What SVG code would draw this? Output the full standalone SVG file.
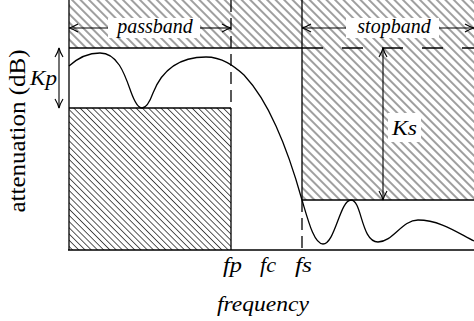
<svg xmlns="http://www.w3.org/2000/svg" width="474" height="321" viewBox="0 0 474 321">
<defs>
<pattern id="hatch" width="6" height="6" patternUnits="userSpaceOnUse" patternTransform="rotate(45)">
<line x1="0" y1="3" x2="6" y2="3" stroke="#000" stroke-width="0.75"/>
</pattern>
<pattern id="hatchDense" width="4.4" height="4.4" patternUnits="userSpaceOnUse" patternTransform="rotate(45)">
<line x1="0" y1="2.2" x2="4.4" y2="2.2" stroke="#111" stroke-width="0.7"/>
</pattern>
<marker id="arr" viewBox="-10 -5 11 10" refX="0" refY="0" markerWidth="11" markerHeight="10" markerUnits="userSpaceOnUse" orient="auto-start-reverse">
<path d="M-9,-4 Q-4,-1 0,0 Q-4,1 -9,4" fill="none" stroke="#000" stroke-width="1.1"/>
</marker>
</defs>
<style>
.ln{stroke:#000;stroke-width:1.3;fill:none}
.dim{stroke:#000;stroke-width:1.1;fill:none;marker-start:url(#arr);marker-end:url(#arr)}
.it{font-family:"Liberation Serif","DejaVu Serif",serif;font-style:italic;font-size:20px;fill:#000}
.up{font-family:"Liberation Serif","DejaVu Serif",serif;font-size:24px;fill:#000}
</style>
<g id="regions">
<rect x="69" y="0" width="405" height="48" fill="url(#hatch)"/>
<rect x="302" y="48" width="172" height="152" fill="url(#hatch)"/>
<rect x="69" y="108" width="162" height="142" fill="url(#hatchDense)"/>
<rect x="108" y="18" width="92" height="20" fill="#fff"/>
<rect x="346" y="18" width="93" height="20" fill="#fff"/>
<rect x="388" y="113" width="33" height="29" fill="#fff"/>
</g>
<g id="frame">
<line class="ln" x1="69" y1="0" x2="69" y2="250"/>
<line class="ln" x1="68" y1="250" x2="474" y2="250"/>
<line class="ln" x1="69" y1="48" x2="302" y2="48"/>
<line class="ln" x1="302" y1="48" x2="474" y2="48" stroke-dasharray="21 19"/>
<line class="ln" x1="69" y1="108" x2="231" y2="108"/>
<line class="ln" x1="231" y1="108" x2="231" y2="250"/>
<line class="ln" x1="231" y1="0" x2="231" y2="108" stroke-dasharray="12 6"/>
<line class="ln" x1="302" y1="0" x2="302" y2="200"/>
<line class="ln" x1="302" y1="200" x2="474" y2="200"/>
<line class="ln" x1="302" y1="200" x2="302" y2="250" stroke-dasharray="12 6"/>
</g>
<g id="connectors">
<line class="dim" x1="69" y1="28" x2="108" y2="28" style="marker-end:none"/>
<line class="dim" x1="200" y1="28" x2="231" y2="28" style="marker-start:none"/>
<line class="dim" x1="302" y1="28" x2="346" y2="28" style="marker-end:none"/>
<line class="dim" x1="439" y1="28" x2="474" y2="28" style="marker-start:none"/>
<line class="dim" x1="59" y1="48" x2="59" y2="108"/>
<line class="dim" x1="383" y1="48" x2="383" y2="200"/>
</g>
<g id="response">
<path class="ln" d="M69,66 C80,56 90,53 100,53 C118,53 125,75 131,92 C135,103 138,108 142,108 C146,108 149,104 153,93 C162,70 180,57 206,57 C222,57 234,66 244,75 C258,90 268,108 276,126 C286,148 295,175 302,200 C308,220 314,244 323,244 C335,244 340,200 351,200 C362,200 361,242 378,242 C393,242 402,220 418,220 C440,220 458,233 474,241"/>
</g>
<g id="labels">
<text class="it" x="155" y="33" text-anchor="middle">passband</text>
<text class="it" x="394" y="33" text-anchor="middle">stopband</text>
<text class="it" x="30" y="85" textLength="27" lengthAdjust="spacingAndGlyphs">Kp</text>
<text class="it" x="392" y="135" textLength="25" lengthAdjust="spacingAndGlyphs">Ks</text>
<text class="it" x="223" y="272" textLength="19" lengthAdjust="spacingAndGlyphs">fp</text>
<text class="it" x="260" y="272" textLength="16" lengthAdjust="spacingAndGlyphs">fc</text>
<text class="it" x="295" y="272" textLength="17" lengthAdjust="spacingAndGlyphs">fs</text>
<text class="it" x="217" y="311" textLength="92" lengthAdjust="spacingAndGlyphs">frequency</text>
<text class="up" transform="translate(25,131) rotate(-90)" text-anchor="middle" textLength="163" lengthAdjust="spacingAndGlyphs">attenuation (dB)</text>
</g>
</svg>
